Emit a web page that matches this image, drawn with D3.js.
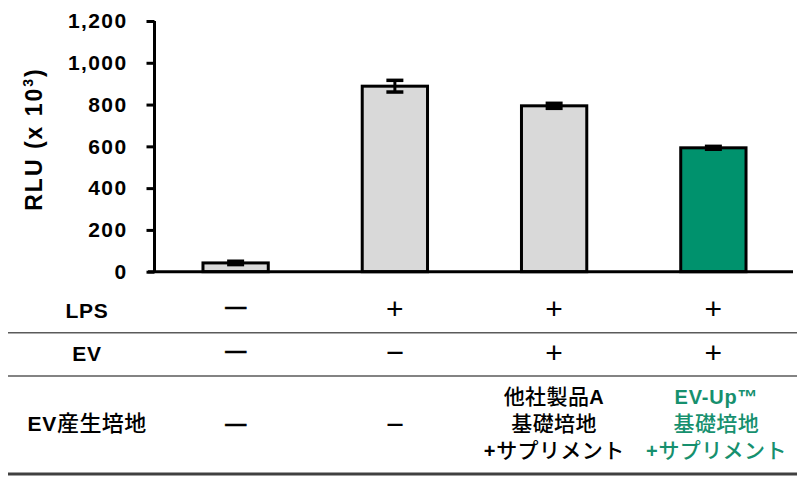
<!DOCTYPE html>
<html>
<head>
<meta charset="utf-8">
<script src="https://cdn.jsdelivr.net/npm/d3@7"></script>
<style>
  body { margin: 0; background: #fff; }
  svg { display: block; }
</style>
</head>
<body>
<svg id="chart" width="800" height="481"></svg>
<script>
// values
var groups = ["g1", "g2", "g3", "g4"];
var values = [42, 888, 794, 593];
var errors = [8, 28, 12, 7];
var yTicks = [0, 200, 400, 600, 800, 1000, 1200];
var highlight = [0, 0, 0, 1];

var rowLabels = ["LPS", "EV", "EV産生培地"];
var lpsRow = ["—", "+", "+", "+"];
var evRow = ["—", "−", "+", "+"];
var mediumRow = [["—"], ["−"], ["他社製品A", "基礎培地", "+サプリメント"], ["EV-Up™", "基礎培地", "+サプリメント"]];

var svg = d3.select("#chart");
var green = "#00926d", greenText = "#16906e";
var latin = "'Liberation Sans', Arial, sans-serif";
var cjk = "'Noto Sans CJK JP', sans-serif";

var x = d3.scaleBand().domain(groups).range([156, 793]).paddingInner(0.59).paddingOuter(0.295);
var y = d3.scaleLinear().domain([0, 1200]).range([271.7, 21]);

// y axis
var yAxis = d3.axisLeft(y).tickValues(yTicks).tickSize(8).tickPadding(19)
	.tickFormat(d3.format(","));
var yG = svg.append("g").attr("transform", "translate(154.5,0)").call(yAxis);
yG.select(".domain").attr("stroke", "#000").attr("stroke-width", 3)
	.attr("d", "M0," + y(1200) + "V" + y(0));
yG.selectAll(".tick line").attr("stroke", "#000").attr("stroke-width", 3);
yG.selectAll(".tick text")
	.attr("font-family", latin).attr("font-weight", "bold")
	.attr("font-size", 21).attr("letter-spacing", 1.4).attr("fill", "#000");

// y title
var title = svg.append("text")
	.attr("transform", "translate(42,139) rotate(-90)")
	.attr("text-anchor", "middle")
	.attr("font-family", latin).attr("font-weight", "bold")
	.attr("font-size", 23).attr("letter-spacing", 2);
title.append("tspan").text("RLU (x 10");
title.append("tspan").attr("font-size", 14).attr("dy", -9).text("3");
title.append("tspan").attr("dy", 9).text(")");

// bars
svg.selectAll(".bar").data(values).enter().append("rect")
	.attr("class", "bar")
	.attr("x", function(d, i) { return x(groups[i]); })
	.attr("width", x.bandwidth())
	.attr("y", function(d) { return y(d); })
	.attr("height", function(d) { return y(0) - y(d); })
	.attr("fill", function(d, i) { return highlight[i] ? green : "#d9d9d9"; })
	.attr("stroke", "#000").attr("stroke-width", 3);

// error bars
var capW = 17;
var eb = svg.selectAll(".err").data(values).enter().append("g").attr("class", "err")
	.attr("transform", function(d, i) { return "translate(" + (x(groups[i]) + x.bandwidth() / 2) + ",0)"; });
eb.append("line")
	.attr("y1", function(d, i) { return y(d + errors[i]); })
	.attr("y2", function(d, i) { return y(d - errors[i]); })
	.attr("stroke", "#000").attr("stroke-width", 3);
eb.append("line")
	.attr("x1", -capW / 2).attr("x2", capW / 2)
	.attr("y1", function(d, i) { return y(d + errors[i]); })
	.attr("y2", function(d, i) { return y(d + errors[i]); })
	.attr("stroke", "#000").attr("stroke-width", 3.5);
eb.append("line")
	.attr("x1", -capW / 2).attr("x2", capW / 2)
	.attr("y1", function(d, i) { return y(d - errors[i]); })
	.attr("y2", function(d, i) { return y(d - errors[i]); })
	.attr("stroke", "#000").attr("stroke-width", 3.5);

// baseline
svg.append("line").attr("x1", 148).attr("x2", 793)
	.attr("y1", y(0)).attr("y2", y(0))
	.attr("stroke", "#000").attr("stroke-width", 3);

// table
function richText(sel, str, size) {
	// split into latin / cjk runs so each gets its own font
	var runs = str.match(/[\x00-\x7F\u2122]+|[^\x00-\x7F\u2122]+/g) || [];
	runs.forEach(function(r) {
		var isLatin = /^[\x00-\x7F\u2122]+$/.test(r);
		sel.append("tspan")
			.attr("font-family", isLatin ? latin : cjk)
			.attr("font-weight", isLatin ? "bold" : 500)
			.attr("font-size", isLatin ? size : size + 1)
			.attr("letter-spacing", isLatin ? 0.8 : 0.4)
			.text(r);
	});
}

// +/- glyph settings: size, weight, centre height (em above baseline)
var glyphStyle = {
	"—": {size: 21, weight: "bold", c: 0.25, stroke: 0.6},
	"−": {size: 31, weight: "normal", c: 0.35, stroke: 0},
	"+": {size: 30, weight: "normal", c: 0.353, stroke: 0}
};
function drawSymbol(sym, cx, cy) {
	var g = glyphStyle[sym];
	svg.append("text").attr("x", cx).attr("y", cy + g.c * g.size)
		.attr("text-anchor", "middle")
		.attr("font-family", latin).attr("font-size", g.size).attr("font-weight", g.weight)
		.attr("fill", "#000").attr("stroke", g.stroke ? "#000" : "none").attr("stroke-width", g.stroke)
		.text(sym);
}

var rowY = [312, 355, 425];
var symY = [308, 352, 424.5];
var labelX = 87;
rowLabels.forEach(function(lab, r) {
	var t = svg.append("text").attr("x", labelX).attr("y", rowY[r]).attr("dy", "0.36em")
		.attr("text-anchor", "middle").attr("fill", "#000");
	richText(t, lab, 21);
});

[lpsRow, evRow].forEach(function(row, r) {
	row.forEach(function(s, i) {
		drawSymbol(s, x(groups[i]) + x.bandwidth() / 2, symY[r]);
	});
});

mediumRow.forEach(function(lines, i) {
	var cx = x(groups[i]) + x.bandwidth() / 2 + (highlight[i] ? 3 : 0);
	if (lines.length == 1) {
		drawSymbol(lines[0], cx, symY[2]);
		return;
	}
	lines.forEach(function(line, k) {
		var cy = rowY[2] + (k - (lines.length - 1) / 2) * 27;
		var t = svg.append("text").attr("x", cx).attr("y", cy).attr("dy", "0.36em")
			.attr("text-anchor", "middle")
			.attr("fill", highlight[i] ? greenText : "#000");
		richText(t, line, 20);
	});
});

// separators
var sepY = [332.7, 376];
sepY.forEach(function(sy) {
	svg.append("line").attr("x1", 8).attr("x2", 797).attr("y1", sy).attr("y2", sy)
		.attr("stroke", "#5a5a5a").attr("stroke-width", 1.5);
});
svg.append("line").attr("x1", 8).attr("x2", 797).attr("y1", 474).attr("y2", 474)
	.attr("stroke", "#404040").attr("stroke-width", 3);
</script>
</body>
</html>
